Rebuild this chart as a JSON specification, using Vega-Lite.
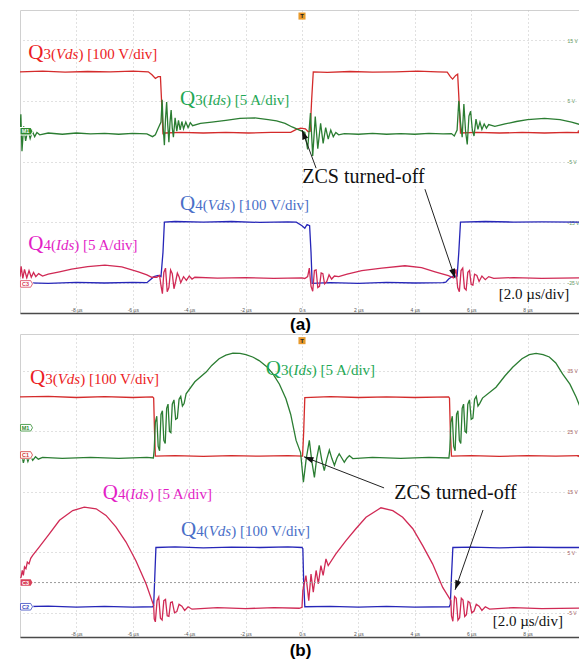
{
"$schema": "https://vega.github.io/schema/vega-lite/v6.json",
"padding": {"left": 15, "top": 9, "right": 0, "bottom": 0},
"bounds": "flush",
"spacing": 21,
"config": {
 "view": {"stroke": "#d0d0d0", "strokeWidth": 1},
 "axis": {"ticks": false, "tickSize": 0, "grid": true, "gridColor": "#c2c2c2", "gridDash": [1, 3], "gridWidth": 1, "labelFont": "Liberation Sans", "labelFontSize": 5, "labelOverlap": false, "labelFlush": false},
 "text": {"font": "Liberation Serif"}
},
"datasets": {
 "waveA": [
  {"s":"Q3Vds","t":-10,"v":9.8},{"s":"Q3Vds","t":-9.2,"v":9.9},{"s":"Q3Vds","t":-8.4,"v":9.75},{"s":"Q3Vds","t":-7.6,"v":9.85},{"s":"Q3Vds","t":-6.8,"v":9.8},{"s":"Q3Vds","t":-6.0,"v":9.9},{"s":"Q3Vds","t":-5.45,"v":9.8},{"s":"Q3Vds","t":-5.32,"v":9.3},{"s":"Q3Vds","t":-5.2,"v":8.7},{"s":"Q3Vds","t":-5.1,"v":9.0},{"s":"Q3Vds","t":-5.02,"v":9.0},{"s":"Q3Vds","t":-4.97,"v":4.0},{"s":"Q3Vds","t":-4.93,"v":-0.4},{"s":"Q3Vds","t":-4.85,"v":-0.3},{"s":"Q3Vds","t":-4.3,"v":-0.2},{"s":"Q3Vds","t":-3.5,"v":-0.3},{"s":"Q3Vds","t":-2.7,"v":-0.2},{"s":"Q3Vds","t":-1.9,"v":-0.3},{"s":"Q3Vds","t":-1.1,"v":-0.2},{"s":"Q3Vds","t":-0.4,"v":-0.2},{"s":"Q3Vds","t":-0.2,"v":0.3},{"s":"Q3Vds","t":-0.05,"v":0.5},{"s":"Q3Vds","t":0.12,"v":0.4},{"s":"Q3Vds","t":0.22,"v":-0.1},{"s":"Q3Vds","t":0.29,"v":0.0},{"s":"Q3Vds","t":0.34,"v":5.0},{"s":"Q3Vds","t":0.4,"v":9.8},{"s":"Q3Vds","t":0.9,"v":9.7},{"s":"Q3Vds","t":1.7,"v":9.85},{"s":"Q3Vds","t":2.5,"v":9.75},{"s":"Q3Vds","t":3.3,"v":9.8},{"s":"Q3Vds","t":4.1,"v":9.9},{"s":"Q3Vds","t":4.8,"v":9.8},{"s":"Q3Vds","t":5.15,"v":9.75},{"s":"Q3Vds","t":5.26,"v":9.0},{"s":"Q3Vds","t":5.34,"v":8.6},{"s":"Q3Vds","t":5.45,"v":9.2},{"s":"Q3Vds","t":5.52,"v":9.4},{"s":"Q3Vds","t":5.58,"v":4.0},{"s":"Q3Vds","t":5.62,"v":-0.3},{"s":"Q3Vds","t":6.2,"v":-0.2},{"s":"Q3Vds","t":7.0,"v":-0.3},{"s":"Q3Vds","t":7.8,"v":-0.2},{"s":"Q3Vds","t":8.6,"v":-0.3},{"s":"Q3Vds","t":9.4,"v":-0.2},{"s":"Q3Vds","t":10,"v":-0.25},
  {"s":"Q3Ids","t":-10,"v":-0.4},{"s":"Q3Ids","t":-9.97,"v":2.8},{"s":"Q3Ids","t":-9.93,"v":-3.3},{"s":"Q3Ids","t":-9.87,"v":0.8},{"s":"Q3Ids","t":-9.8,"v":-1.6},{"s":"Q3Ids","t":-9.72,"v":0.3},{"s":"Q3Ids","t":-9.64,"v":-1.2},{"s":"Q3Ids","t":-9.56,"v":0.0},{"s":"Q3Ids","t":-9.48,"v":-0.9},{"s":"Q3Ids","t":-9.4,"v":-0.2},{"s":"Q3Ids","t":-9.3,"v":-0.6},{"s":"Q3Ids","t":-9.0,"v":-0.3},{"s":"Q3Ids","t":-8.5,"v":-0.5},{"s":"Q3Ids","t":-8.0,"v":-0.3},{"s":"Q3Ids","t":-7.5,"v":-0.45},{"s":"Q3Ids","t":-7.0,"v":-0.35},{"s":"Q3Ids","t":-6.5,"v":-0.5},{"s":"Q3Ids","t":-6.0,"v":-0.35},{"s":"Q3Ids","t":-5.5,"v":-0.45},{"s":"Q3Ids","t":-5.3,"v":-0.9},{"s":"Q3Ids","t":-5.2,"v":-0.6},{"s":"Q3Ids","t":-5.1,"v":0.5},{"s":"Q3Ids","t":-5.0,"v":1.5},{"s":"Q3Ids","t":-4.96,"v":5.2},{"s":"Q3Ids","t":-4.92,"v":0.5},{"s":"Q3Ids","t":-4.88,"v":-2.3},{"s":"Q3Ids","t":-4.84,"v":2.0},{"s":"Q3Ids","t":-4.8,"v":4.8},{"s":"Q3Ids","t":-4.76,"v":1.0},{"s":"Q3Ids","t":-4.72,"v":-1.8},{"s":"Q3Ids","t":-4.68,"v":1.5},{"s":"Q3Ids","t":-4.64,"v":3.5},{"s":"Q3Ids","t":-4.6,"v":0.5},{"s":"Q3Ids","t":-4.56,"v":-1.0},{"s":"Q3Ids","t":-4.5,"v":2.2},{"s":"Q3Ids","t":-4.44,"v":0.0},{"s":"Q3Ids","t":-4.38,"v":1.8},{"s":"Q3Ids","t":-4.32,"v":0.2},{"s":"Q3Ids","t":-4.26,"v":1.6},{"s":"Q3Ids","t":-4.2,"v":0.4},{"s":"Q3Ids","t":-4.12,"v":1.5},{"s":"Q3Ids","t":-4.04,"v":0.6},{"s":"Q3Ids","t":-3.96,"v":1.4},{"s":"Q3Ids","t":-3.88,"v":0.9},{"s":"Q3Ids","t":-3.6,"v":1.3},{"s":"Q3Ids","t":-3.2,"v":1.5},{"s":"Q3Ids","t":-2.7,"v":1.8},{"s":"Q3Ids","t":-2.2,"v":2.1},{"s":"Q3Ids","t":-1.67,"v":2.2},{"s":"Q3Ids","t":-1.2,"v":1.9},{"s":"Q3Ids","t":-0.9,"v":1.7},{"s":"Q3Ids","t":-0.6,"v":1.3},{"s":"Q3Ids","t":-0.35,"v":0.7},{"s":"Q3Ids","t":-0.15,"v":0.3},{"s":"Q3Ids","t":0.0,"v":0.0},{"s":"Q3Ids","t":0.1,"v":-0.2},{"s":"Q3Ids","t":0.2,"v":-3.0},{"s":"Q3Ids","t":0.3,"v":3.0},{"s":"Q3Ids","t":0.38,"v":-4.1},{"s":"Q3Ids","t":0.47,"v":2.4},{"s":"Q3Ids","t":0.56,"v":-2.9},{"s":"Q3Ids","t":0.66,"v":1.3},{"s":"Q3Ids","t":0.75,"v":-2.0},{"s":"Q3Ids","t":0.84,"v":0.6},{"s":"Q3Ids","t":0.93,"v":-1.3},{"s":"Q3Ids","t":1.02,"v":0.2},{"s":"Q3Ids","t":1.11,"v":-0.9},{"s":"Q3Ids","t":1.2,"v":-0.2},{"s":"Q3Ids","t":1.3,"v":-0.6},{"s":"Q3Ids","t":1.5,"v":-0.4},{"s":"Q3Ids","t":2.0,"v":-0.5},{"s":"Q3Ids","t":2.5,"v":-0.35},{"s":"Q3Ids","t":3.0,"v":-0.5},{"s":"Q3Ids","t":3.5,"v":-0.4},{"s":"Q3Ids","t":4.0,"v":-0.5},{"s":"Q3Ids","t":4.5,"v":-0.35},{"s":"Q3Ids","t":5.0,"v":-0.45},{"s":"Q3Ids","t":5.3,"v":-0.4},{"s":"Q3Ids","t":5.4,"v":-0.8},{"s":"Q3Ids","t":5.5,"v":0.2},{"s":"Q3Ids","t":5.56,"v":5.0},{"s":"Q3Ids","t":5.62,"v":1.5},{"s":"Q3Ids","t":5.68,"v":-1.0},{"s":"Q3Ids","t":5.74,"v":4.5},{"s":"Q3Ids","t":5.8,"v":0.0},{"s":"Q3Ids","t":5.86,"v":-2.2},{"s":"Q3Ids","t":5.92,"v":2.5},{"s":"Q3Ids","t":5.98,"v":3.3},{"s":"Q3Ids","t":6.04,"v":0.2},{"s":"Q3Ids","t":6.1,"v":-0.8},{"s":"Q3Ids","t":6.17,"v":2.0},{"s":"Q3Ids","t":6.24,"v":0.3},{"s":"Q3Ids","t":6.31,"v":1.5},{"s":"Q3Ids","t":6.38,"v":0.3},{"s":"Q3Ids","t":6.46,"v":1.2},{"s":"Q3Ids","t":6.54,"v":0.5},{"s":"Q3Ids","t":6.62,"v":1.1},{"s":"Q3Ids","t":6.84,"v":0.8},{"s":"Q3Ids","t":7.2,"v":1.2},{"s":"Q3Ids","t":7.6,"v":1.6},{"s":"Q3Ids","t":8.0,"v":1.9},{"s":"Q3Ids","t":8.6,"v":2.1},{"s":"Q3Ids","t":9.15,"v":1.9},{"s":"Q3Ids","t":9.56,"v":1.5},{"s":"Q3Ids","t":10.0,"v":0.9},
  {"s":"Q4Vds","t":-10,"v":-25.0},{"s":"Q4Vds","t":-9.0,"v":-25.1},{"s":"Q4Vds","t":-8.0,"v":-24.95},{"s":"Q4Vds","t":-7.0,"v":-25.05},{"s":"Q4Vds","t":-6.0,"v":-24.95},{"s":"Q4Vds","t":-5.5,"v":-25.0},{"s":"Q4Vds","t":-5.4,"v":-24.6},{"s":"Q4Vds","t":-5.25,"v":-24.0},{"s":"Q4Vds","t":-5.1,"v":-23.8},{"s":"Q4Vds","t":-5.0,"v":-24.0},{"s":"Q4Vds","t":-4.93,"v":-20},{"s":"Q4Vds","t":-4.88,"v":-15.0},{"s":"Q4Vds","t":-4.5,"v":-14.9},{"s":"Q4Vds","t":-3.5,"v":-15.0},{"s":"Q4Vds","t":-2.5,"v":-14.9},{"s":"Q4Vds","t":-1.5,"v":-15.05},{"s":"Q4Vds","t":-0.5,"v":-14.95},{"s":"Q4Vds","t":-0.2,"v":-15.0},{"s":"Q4Vds","t":0.0,"v":-15.6},{"s":"Q4Vds","t":0.1,"v":-16.0},{"s":"Q4Vds","t":0.18,"v":-15.4},{"s":"Q4Vds","t":0.27,"v":-15.6},{"s":"Q4Vds","t":0.32,"v":-20},{"s":"Q4Vds","t":0.36,"v":-25.1},{"s":"Q4Vds","t":1.0,"v":-25.0},{"s":"Q4Vds","t":2.0,"v":-25.1},{"s":"Q4Vds","t":3.0,"v":-24.95},{"s":"Q4Vds","t":4.0,"v":-25.05},{"s":"Q4Vds","t":5.0,"v":-25.0},{"s":"Q4Vds","t":5.1,"v":-24.9},{"s":"Q4Vds","t":5.2,"v":-24.4},{"s":"Q4Vds","t":5.35,"v":-23.9},{"s":"Q4Vds","t":5.5,"v":-23.9},{"s":"Q4Vds","t":5.56,"v":-20},{"s":"Q4Vds","t":5.62,"v":-15.0},{"s":"Q4Vds","t":6.5,"v":-14.9},{"s":"Q4Vds","t":7.5,"v":-15.0},{"s":"Q4Vds","t":8.5,"v":-14.95},{"s":"Q4Vds","t":10.0,"v":-15.0},
  {"s":"Q4Ids","t":-10.0,"v":-24.0},{"s":"Q4Ids","t":-9.96,"v":-22.3},{"s":"Q4Ids","t":-9.9,"v":-24.3},{"s":"Q4Ids","t":-9.84,"v":-22.8},{"s":"Q4Ids","t":-9.76,"v":-24.2},{"s":"Q4Ids","t":-9.68,"v":-23.0},{"s":"Q4Ids","t":-9.6,"v":-24.1},{"s":"Q4Ids","t":-9.52,"v":-23.3},{"s":"Q4Ids","t":-9.44,"v":-24.0},{"s":"Q4Ids","t":-9.34,"v":-23.5},{"s":"Q4Ids","t":-9.2,"v":-23.9},{"s":"Q4Ids","t":-9.0,"v":-23.6},{"s":"Q4Ids","t":-8.6,"v":-23.2},{"s":"Q4Ids","t":-8.17,"v":-22.75},{"s":"Q4Ids","t":-7.6,"v":-22.35},{"s":"Q4Ids","t":-6.99,"v":-22.1},{"s":"Q4Ids","t":-6.39,"v":-22.4},{"s":"Q4Ids","t":-5.8,"v":-23.2},{"s":"Q4Ids","t":-5.5,"v":-23.7},{"s":"Q4Ids","t":-5.33,"v":-24.1},{"s":"Q4Ids","t":-5.15,"v":-24.1},{"s":"Q4Ids","t":-5.05,"v":-23.8},{"s":"Q4Ids","t":-5.0,"v":-25.5},{"s":"Q4Ids","t":-4.95,"v":-26.8},{"s":"Q4Ids","t":-4.9,"v":-23.3},{"s":"Q4Ids","t":-4.84,"v":-22.6},{"s":"Q4Ids","t":-4.78,"v":-26.5},{"s":"Q4Ids","t":-4.72,"v":-25.8},{"s":"Q4Ids","t":-4.66,"v":-22.9},{"s":"Q4Ids","t":-4.6,"v":-23.5},{"s":"Q4Ids","t":-4.54,"v":-26.0},{"s":"Q4Ids","t":-4.48,"v":-24.8},{"s":"Q4Ids","t":-4.42,"v":-23.4},{"s":"Q4Ids","t":-4.36,"v":-24.0},{"s":"Q4Ids","t":-4.3,"v":-25.0},{"s":"Q4Ids","t":-4.2,"v":-24.0},{"s":"Q4Ids","t":-4.1,"v":-24.6},{"s":"Q4Ids","t":-4.0,"v":-23.9},{"s":"Q4Ids","t":-3.9,"v":-24.4},{"s":"Q4Ids","t":-3.8,"v":-24.1},{"s":"Q4Ids","t":-3.0,"v":-24.25},{"s":"Q4Ids","t":-2.0,"v":-24.15},{"s":"Q4Ids","t":-1.0,"v":-24.3},{"s":"Q4Ids","t":0.0,"v":-24.2},{"s":"Q4Ids","t":0.1,"v":-24.3},{"s":"Q4Ids","t":0.2,"v":-24.0},{"s":"Q4Ids","t":0.26,"v":-22.6},{"s":"Q4Ids","t":0.32,"v":-25.6},{"s":"Q4Ids","t":0.38,"v":-26.4},{"s":"Q4Ids","t":0.44,"v":-23.0},{"s":"Q4Ids","t":0.5,"v":-22.9},{"s":"Q4Ids","t":0.56,"v":-25.8},{"s":"Q4Ids","t":0.62,"v":-25.6},{"s":"Q4Ids","t":0.68,"v":-23.4},{"s":"Q4Ids","t":0.74,"v":-23.5},{"s":"Q4Ids","t":0.8,"v":-25.2},{"s":"Q4Ids","t":0.88,"v":-24.8},{"s":"Q4Ids","t":0.96,"v":-23.7},{"s":"Q4Ids","t":1.05,"v":-24.4},{"s":"Q4Ids","t":1.15,"v":-23.9},{"s":"Q4Ids","t":1.3,"v":-24.0},{"s":"Q4Ids","t":1.6,"v":-23.6},{"s":"Q4Ids","t":2.12,"v":-23.0},{"s":"Q4Ids","t":2.83,"v":-22.6},{"s":"Q4Ids","t":3.65,"v":-22.2},{"s":"Q4Ids","t":4.24,"v":-22.5},{"s":"Q4Ids","t":4.72,"v":-23.2},{"s":"Q4Ids","t":5.19,"v":-23.85},{"s":"Q4Ids","t":5.37,"v":-24.2},{"s":"Q4Ids","t":5.46,"v":-22.8},{"s":"Q4Ids","t":5.52,"v":-25.8},{"s":"Q4Ids","t":5.58,"v":-26.5},{"s":"Q4Ids","t":5.64,"v":-23.0},{"s":"Q4Ids","t":5.7,"v":-22.6},{"s":"Q4Ids","t":5.76,"v":-25.9},{"s":"Q4Ids","t":5.82,"v":-26.2},{"s":"Q4Ids","t":5.88,"v":-23.3},{"s":"Q4Ids","t":5.94,"v":-23.0},{"s":"Q4Ids","t":6.0,"v":-25.3},{"s":"Q4Ids","t":6.06,"v":-25.4},{"s":"Q4Ids","t":6.12,"v":-23.6},{"s":"Q4Ids","t":6.2,"v":-23.8},{"s":"Q4Ids","t":6.28,"v":-24.8},{"s":"Q4Ids","t":6.38,"v":-23.9},{"s":"Q4Ids","t":6.5,"v":-24.5},{"s":"Q4Ids","t":6.62,"v":-24.0},{"s":"Q4Ids","t":6.8,"v":-24.3},{"s":"Q4Ids","t":7.5,"v":-24.15},{"s":"Q4Ids","t":8.5,"v":-24.3},{"s":"Q4Ids","t":10.0,"v":-24.2}
 ],
 "waveB": [
  {"s":"Q3Vds","t":-10,"v":30.7},{"s":"Q3Vds","t":-9,"v":30.8},{"s":"Q3Vds","t":-8,"v":30.6},{"s":"Q3Vds","t":-7,"v":30.75},{"s":"Q3Vds","t":-6,"v":30.6},{"s":"Q3Vds","t":-5.3,"v":30.7},{"s":"Q3Vds","t":-5.26,"v":30.5},{"s":"Q3Vds","t":-5.23,"v":25},{"s":"Q3Vds","t":-5.2,"v":20.9},{"s":"Q3Vds","t":-4.5,"v":21.0},{"s":"Q3Vds","t":-3.5,"v":20.85},{"s":"Q3Vds","t":-2.5,"v":21.0},{"s":"Q3Vds","t":-1.5,"v":20.9},{"s":"Q3Vds","t":-0.5,"v":21.0},{"s":"Q3Vds","t":0.02,"v":20.9},{"s":"Q3Vds","t":0.06,"v":25},{"s":"Q3Vds","t":0.1,"v":30.6},{"s":"Q3Vds","t":1,"v":30.75},{"s":"Q3Vds","t":2,"v":30.6},{"s":"Q3Vds","t":3,"v":30.7},{"s":"Q3Vds","t":4,"v":30.6},{"s":"Q3Vds","t":5.2,"v":30.7},{"s":"Q3Vds","t":5.23,"v":30.5},{"s":"Q3Vds","t":5.26,"v":25},{"s":"Q3Vds","t":5.3,"v":20.9},{"s":"Q3Vds","t":6,"v":21.0},{"s":"Q3Vds","t":7,"v":20.85},{"s":"Q3Vds","t":8,"v":21.0},{"s":"Q3Vds","t":9,"v":20.9},{"s":"Q3Vds","t":10,"v":21.0},
  {"s":"Q3Ids","t":-10,"v":20.5},{"s":"Q3Ids","t":-9.95,"v":21.5},{"s":"Q3Ids","t":-9.88,"v":19.8},{"s":"Q3Ids","t":-9.8,"v":21.2},{"s":"Q3Ids","t":-9.72,"v":20.0},{"s":"Q3Ids","t":-9.64,"v":21.0},{"s":"Q3Ids","t":-9.55,"v":20.2},{"s":"Q3Ids","t":-9.45,"v":20.8},{"s":"Q3Ids","t":-9.35,"v":20.4},{"s":"Q3Ids","t":-9.2,"v":20.7},{"s":"Q3Ids","t":-8.5,"v":20.55},{"s":"Q3Ids","t":-7.5,"v":20.7},{"s":"Q3Ids","t":-6.5,"v":20.55},{"s":"Q3Ids","t":-5.5,"v":20.7},{"s":"Q3Ids","t":-5.27,"v":20.6},{"s":"Q3Ids","t":-5.24,"v":22.0},{"s":"Q3Ids","t":-5.2,"v":26.5},{"s":"Q3Ids","t":-5.15,"v":27.5},{"s":"Q3Ids","t":-5.1,"v":22.5},{"s":"Q3Ids","t":-5.05,"v":21.8},{"s":"Q3Ids","t":-5.0,"v":27.8},{"s":"Q3Ids","t":-4.95,"v":28.4},{"s":"Q3Ids","t":-4.9,"v":23.5},{"s":"Q3Ids","t":-4.85,"v":23.0},{"s":"Q3Ids","t":-4.8,"v":28.8},{"s":"Q3Ids","t":-4.75,"v":29.5},{"s":"Q3Ids","t":-4.7,"v":25.0},{"s":"Q3Ids","t":-4.65,"v":24.8},{"s":"Q3Ids","t":-4.6,"v":29.5},{"s":"Q3Ids","t":-4.54,"v":30.2},{"s":"Q3Ids","t":-4.48,"v":27.0},{"s":"Q3Ids","t":-4.42,"v":27.2},{"s":"Q3Ids","t":-4.36,"v":30.3},{"s":"Q3Ids","t":-4.3,"v":30.8},{"s":"Q3Ids","t":-4.24,"v":29.2},{"s":"Q3Ids","t":-4.18,"v":29.6},{"s":"Q3Ids","t":-4.11,"v":31.2},{"s":"Q3Ids","t":-3.8,"v":33.2},{"s":"Q3Ids","t":-3.4,"v":34.8},{"s":"Q3Ids","t":-3.2,"v":35.9},{"s":"Q3Ids","t":-2.94,"v":37.0},{"s":"Q3Ids","t":-2.7,"v":37.6},{"s":"Q3Ids","t":-2.45,"v":37.95},{"s":"Q3Ids","t":-2.2,"v":37.9},{"s":"Q3Ids","t":-1.99,"v":37.7},{"s":"Q3Ids","t":-1.75,"v":37.3},{"s":"Q3Ids","t":-1.52,"v":36.7},{"s":"Q3Ids","t":-1.25,"v":35.7},{"s":"Q3Ids","t":-1.03,"v":34.5},{"s":"Q3Ids","t":-0.8,"v":32.8},{"s":"Q3Ids","t":-0.57,"v":30.4},{"s":"Q3Ids","t":-0.4,"v":27.8},{"s":"Q3Ids","t":-0.21,"v":23.5},{"s":"Q3Ids","t":-0.05,"v":21.5},{"s":"Q3Ids","t":0.05,"v":16.6},{"s":"Q3Ids","t":0.15,"v":20.5},{"s":"Q3Ids","t":0.26,"v":23.5},{"s":"Q3Ids","t":0.35,"v":20.0},{"s":"Q3Ids","t":0.44,"v":17.4},{"s":"Q3Ids","t":0.52,"v":20.5},{"s":"Q3Ids","t":0.61,"v":22.7},{"s":"Q3Ids","t":0.7,"v":20.3},{"s":"Q3Ids","t":0.79,"v":18.5},{"s":"Q3Ids","t":0.88,"v":20.4},{"s":"Q3Ids","t":0.97,"v":21.9},{"s":"Q3Ids","t":1.06,"v":20.5},{"s":"Q3Ids","t":1.15,"v":19.4},{"s":"Q3Ids","t":1.24,"v":20.6},{"s":"Q3Ids","t":1.32,"v":21.3},{"s":"Q3Ids","t":1.41,"v":20.6},{"s":"Q3Ids","t":1.5,"v":19.9},{"s":"Q3Ids","t":1.6,"v":20.6},{"s":"Q3Ids","t":1.68,"v":21.0},{"s":"Q3Ids","t":1.8,"v":20.5},{"s":"Q3Ids","t":2.5,"v":20.7},{"s":"Q3Ids","t":3.5,"v":20.55},{"s":"Q3Ids","t":4.5,"v":20.7},{"s":"Q3Ids","t":5.21,"v":20.6},{"s":"Q3Ids","t":5.24,"v":22.0},{"s":"Q3Ids","t":5.28,"v":26.5},{"s":"Q3Ids","t":5.33,"v":27.5},{"s":"Q3Ids","t":5.38,"v":22.5},{"s":"Q3Ids","t":5.43,"v":21.8},{"s":"Q3Ids","t":5.48,"v":27.8},{"s":"Q3Ids","t":5.53,"v":28.4},{"s":"Q3Ids","t":5.58,"v":23.5},{"s":"Q3Ids","t":5.63,"v":23.0},{"s":"Q3Ids","t":5.68,"v":28.8},{"s":"Q3Ids","t":5.73,"v":29.5},{"s":"Q3Ids","t":5.78,"v":25.0},{"s":"Q3Ids","t":5.83,"v":24.8},{"s":"Q3Ids","t":5.88,"v":29.5},{"s":"Q3Ids","t":5.94,"v":30.2},{"s":"Q3Ids","t":6.0,"v":27.0},{"s":"Q3Ids","t":6.06,"v":27.2},{"s":"Q3Ids","t":6.12,"v":30.3},{"s":"Q3Ids","t":6.18,"v":30.8},{"s":"Q3Ids","t":6.24,"v":29.2},{"s":"Q3Ids","t":6.3,"v":29.6},{"s":"Q3Ids","t":6.4,"v":30.5},{"s":"Q3Ids","t":6.88,"v":32.3},{"s":"Q3Ids","t":7.2,"v":34.2},{"s":"Q3Ids","t":7.47,"v":35.6},{"s":"Q3Ids","t":7.8,"v":37.0},{"s":"Q3Ids","t":8.06,"v":37.7},{"s":"Q3Ids","t":8.3,"v":37.9},{"s":"Q3Ids","t":8.55,"v":37.7},{"s":"Q3Ids","t":8.77,"v":37.3},{"s":"Q3Ids","t":9.0,"v":36.3},{"s":"Q3Ids","t":9.24,"v":34.5},{"s":"Q3Ids","t":9.5,"v":32.8},{"s":"Q3Ids","t":9.72,"v":30.7},{"s":"Q3Ids","t":9.9,"v":28.6},{"s":"Q3Ids","t":10.0,"v":27.0},
  {"s":"Q4Vds","t":-10,"v":-4.0},{"s":"Q4Vds","t":-9,"v":-3.9},{"s":"Q4Vds","t":-8,"v":-4.05},{"s":"Q4Vds","t":-7,"v":-3.95},{"s":"Q4Vds","t":-6,"v":-4.05},{"s":"Q4Vds","t":-5.3,"v":-4.0},{"s":"Q4Vds","t":-5.26,"v":-3.8},{"s":"Q4Vds","t":-5.22,"v":1.0},{"s":"Q4Vds","t":-5.18,"v":5.8},{"s":"Q4Vds","t":-4.5,"v":5.9},{"s":"Q4Vds","t":-3.5,"v":5.75},{"s":"Q4Vds","t":-2.5,"v":5.85},{"s":"Q4Vds","t":-1.5,"v":5.8},{"s":"Q4Vds","t":-0.5,"v":5.9},{"s":"Q4Vds","t":0.0,"v":5.8},{"s":"Q4Vds","t":0.03,"v":5.6},{"s":"Q4Vds","t":0.06,"v":0.0},{"s":"Q4Vds","t":0.1,"v":-4.0},{"s":"Q4Vds","t":1,"v":-3.95},{"s":"Q4Vds","t":2,"v":-4.05},{"s":"Q4Vds","t":3,"v":-3.95},{"s":"Q4Vds","t":4,"v":-4.05},{"s":"Q4Vds","t":5.22,"v":-4.0},{"s":"Q4Vds","t":5.26,"v":-3.6},{"s":"Q4Vds","t":5.3,"v":1.0},{"s":"Q4Vds","t":5.35,"v":5.8},{"s":"Q4Vds","t":6,"v":5.85},{"s":"Q4Vds","t":7,"v":5.75},{"s":"Q4Vds","t":8,"v":5.85},{"s":"Q4Vds","t":9,"v":5.8},{"s":"Q4Vds","t":10,"v":5.8},
  {"s":"Q4Ids","t":-10.0,"v":0.6},{"s":"Q4Ids","t":-9.96,"v":0.9},{"s":"Q4Ids","t":-9.92,"v":2.0},{"s":"Q4Ids","t":-9.88,"v":1.2},{"s":"Q4Ids","t":-9.84,"v":2.6},{"s":"Q4Ids","t":-9.79,"v":2.3},{"s":"Q4Ids","t":-9.74,"v":3.4},{"s":"Q4Ids","t":-9.68,"v":3.1},{"s":"Q4Ids","t":-9.62,"v":4.0},{"s":"Q4Ids","t":-9.55,"v":4.5},{"s":"Q4Ids","t":-9.32,"v":5.85},{"s":"Q4Ids","t":-8.96,"v":8.06},{"s":"Q4Ids","t":-8.6,"v":10.3},{"s":"Q4Ids","t":-8.13,"v":11.9},{"s":"Q4Ids","t":-7.72,"v":12.47},{"s":"Q4Ids","t":-7.3,"v":12.2},{"s":"Q4Ids","t":-6.95,"v":11.1},{"s":"Q4Ids","t":-6.6,"v":9.2},{"s":"Q4Ids","t":-6.24,"v":6.7},{"s":"Q4Ids","t":-5.89,"v":3.6},{"s":"Q4Ids","t":-5.53,"v":-0.2},{"s":"Q4Ids","t":-5.26,"v":-3.8},{"s":"Q4Ids","t":-5.24,"v":-6.0},{"s":"Q4Ids","t":-5.2,"v":-6.5},{"s":"Q4Ids","t":-5.14,"v":-3.0},{"s":"Q4Ids","t":-5.08,"v":-2.4},{"s":"Q4Ids","t":-5.02,"v":-5.9},{"s":"Q4Ids","t":-4.96,"v":-6.2},{"s":"Q4Ids","t":-4.9,"v":-3.0},{"s":"Q4Ids","t":-4.84,"v":-2.8},{"s":"Q4Ids","t":-4.78,"v":-5.5},{"s":"Q4Ids","t":-4.72,"v":-5.6},{"s":"Q4Ids","t":-4.66,"v":-3.3},{"s":"Q4Ids","t":-4.6,"v":-3.2},{"s":"Q4Ids","t":-4.52,"v":-5.0},{"s":"Q4Ids","t":-4.44,"v":-4.8},{"s":"Q4Ids","t":-4.36,"v":-3.6},{"s":"Q4Ids","t":-4.26,"v":-3.9},{"s":"Q4Ids","t":-4.16,"v":-4.6},{"s":"Q4Ids","t":-4.04,"v":-4.0},{"s":"Q4Ids","t":-3.9,"v":-4.4},{"s":"Q4Ids","t":-3.0,"v":-4.15},{"s":"Q4Ids","t":-2.0,"v":-4.3},{"s":"Q4Ids","t":-1.0,"v":-4.15},{"s":"Q4Ids","t":-0.1,"v":-4.25},{"s":"Q4Ids","t":0.0,"v":-4.1},{"s":"Q4Ids","t":0.03,"v":-1.3},{"s":"Q4Ids","t":0.14,"v":1.16},{"s":"Q4Ids","t":0.24,"v":-3.0},{"s":"Q4Ids","t":0.32,"v":1.4},{"s":"Q4Ids","t":0.4,"v":-1.6},{"s":"Q4Ids","t":0.5,"v":2.0},{"s":"Q4Ids","t":0.58,"v":-0.2},{"s":"Q4Ids","t":0.67,"v":2.8},{"s":"Q4Ids","t":0.75,"v":1.2},{"s":"Q4Ids","t":0.85,"v":3.9},{"s":"Q4Ids","t":0.93,"v":2.8},{"s":"Q4Ids","t":1.2,"v":4.75},{"s":"Q4Ids","t":1.56,"v":6.95},{"s":"Q4Ids","t":1.91,"v":8.9},{"s":"Q4Ids","t":2.27,"v":10.8},{"s":"Q4Ids","t":2.8,"v":12.37},{"s":"Q4Ids","t":3.22,"v":11.9},{"s":"Q4Ids","t":3.57,"v":10.8},{"s":"Q4Ids","t":3.93,"v":8.9},{"s":"Q4Ids","t":4.28,"v":6.1},{"s":"Q4Ids","t":4.63,"v":3.1},{"s":"Q4Ids","t":4.99,"v":-0.8},{"s":"Q4Ids","t":5.28,"v":-3.0},{"s":"Q4Ids","t":5.3,"v":-5.5},{"s":"Q4Ids","t":5.35,"v":-6.4},{"s":"Q4Ids","t":5.41,"v":-2.3},{"s":"Q4Ids","t":5.47,"v":-2.6},{"s":"Q4Ids","t":5.53,"v":-6.2},{"s":"Q4Ids","t":5.59,"v":-5.8},{"s":"Q4Ids","t":5.65,"v":-2.6},{"s":"Q4Ids","t":5.71,"v":-2.9},{"s":"Q4Ids","t":5.77,"v":-5.6},{"s":"Q4Ids","t":5.83,"v":-5.3},{"s":"Q4Ids","t":5.89,"v":-3.1},{"s":"Q4Ids","t":5.95,"v":-3.3},{"s":"Q4Ids","t":6.02,"v":-5.0},{"s":"Q4Ids","t":6.1,"v":-4.7},{"s":"Q4Ids","t":6.18,"v":-3.6},{"s":"Q4Ids","t":6.28,"v":-3.9},{"s":"Q4Ids","t":6.38,"v":-4.6},{"s":"Q4Ids","t":6.5,"v":-4.0},{"s":"Q4Ids","t":6.65,"v":-4.4},{"s":"Q4Ids","t":7.5,"v":-4.15},{"s":"Q4Ids","t":8.5,"v":-4.3},{"s":"Q4Ids","t":10,"v":-4.2}
 ],
 "textA": [
  {"s":"L3V","p":"Q","t":-9.706,"v":11.9,"x":"Q"},{"s":"L3V","p":"n","t":-9.168,"v":11.9,"x":"3("},{"s":"L3V","p":"i","t":-8.725,"v":11.9,"x":"Vds"},{"s":"L3V","p":"n","t":-7.927,"v":11.9,"x":") [100 V/div]"},
  {"s":"L3I","p":"Q","t":-4.326,"v":4.32,"x":"Q"},{"s":"L3I","p":"n","t":-3.788,"v":4.32,"x":"3("},{"s":"L3I","p":"i","t":-3.345,"v":4.32,"x":"Ids"},{"s":"L3I","p":"n","t":-2.695,"v":4.32,"x":") [5 A/div]"},
  {"s":"L4V","p":"Q","t":-4.326,"v":-13.0,"x":"Q"},{"s":"L4V","p":"n","t":-3.788,"v":-13.0,"x":"4("},{"s":"L4V","p":"i","t":-3.345,"v":-13.0,"x":"Vds"},{"s":"L4V","p":"n","t":-2.547,"v":-13.0,"x":") [100 V/div]"},
  {"s":"L4I","p":"Q","t":-9.706,"v":-19.6,"x":"Q"},{"s":"L4I","p":"n","t":-9.168,"v":-19.6,"x":"4("},{"s":"L4I","p":"i","t":-8.725,"v":-19.6,"x":"Ids"},{"s":"L4I","p":"n","t":-8.075,"v":-19.6,"x":") [5 A/div]"},
  {"s":"K","p":"z","t":0.01,"v":-8.5,"x":"ZCS turned-off"},{"s":"K","p":"n","t":6.98,"v":-27.74,"x":"[2.0 µs/div]"}
 ],
 "textB": [
  {"s":"L3V","p":"Q","t":-9.645,"v":32.84,"x":"Q"},{"s":"L3V","p":"n","t":-9.107,"v":32.84,"x":"3("},{"s":"L3V","p":"i","t":-8.664,"v":32.84,"x":"Vds"},{"s":"L3V","p":"n","t":-7.866,"v":32.84,"x":") [100 V/div]"},
  {"s":"L3I","p":"Q","t":-1.284,"v":34.33,"x":"Q"},{"s":"L3I","p":"n","t":-0.746,"v":34.33,"x":"3("},{"s":"L3I","p":"i","t":-0.303,"v":34.33,"x":"Ids"},{"s":"L3I","p":"n","t":0.347,"v":34.33,"x":") [5 A/div]"},
  {"s":"L4I","p":"Q","t":-7.067,"v":13.9,"x":"Q"},{"s":"L4I","p":"n","t":-6.529,"v":13.9,"x":"4("},{"s":"L4I","p":"i","t":-6.086,"v":13.9,"x":"Ids"},{"s":"L4I","p":"n","t":-5.436,"v":13.9,"x":") [5 A/div]"},
  {"s":"L4V","p":"Q","t":-4.291,"v":7.72,"x":"Q"},{"s":"L4V","p":"n","t":-3.753,"v":7.72,"x":"4("},{"s":"L4V","p":"i","t":-3.31,"v":7.72,"x":"Vds"},{"s":"L4V","p":"n","t":-2.512,"v":7.72,"x":") [100 V/div]"},
  {"s":"K","p":"z","t":3.27,"v":13.84,"x":"ZCS turned-off"},{"s":"K","p":"n","t":6.76,"v":-7.2,"x":"[2.0 µs/div]"}
 ],
 "arrA": [{"id":1,"t":0.5,"v":-6.1,"t2":0.0,"v2":0.2},{"id":2,"t":4.36,"v":-9.57,"t2":5.43,"v2":-24.26}],
 "arrB": [{"id":1,"t":2.91,"v":15.65,"t2":0.07,"v2":20.8},{"id":2,"t":6.42,"v":12.0,"t2":5.43,"v2":-1.2}],
 "tagA": [{"s":"M1","t":-9.77,"v":0,"on":true},{"s":"C3","t":-9.77,"v":-25.2,"on":false}],
 "tagB": [{"s":"M1","t":-9.77,"v":25.6,"on":false},{"s":"C1","t":-9.77,"v":21.1,"on":false},{"s":"C3","t":-9.77,"v":0,"on":true},{"s":"C2","t":-9.77,"v":-4.0,"on":false}],
 "refA": [{"s":"C1","t":9.85,"v":0,"trig":0,"tv":19.0}],
 "refB": [{"s":"C1","t":9.85,"v":20.9,"trig":0,"tv":40.0}]
},
"vconcat": [
 {
  "width": 564, "height": 303,
  "layer": [
   {"data": {"name": "waveA"}, "mark": {"type": "line", "strokeWidth": 1.3, "clip": true},
    "encoding": {
     "x": {"field": "t", "type": "quantitative", "scale": {"domain": [-10, 10], "nice": false, "zero": false},
      "axis": {"orient": "bottom", "values": [-8,-6,-4,-2,0,2,4,6,8], "labelExpr": "datum.value == 0 ? '0 s' : datum.value + ' µs'", "labelColor": "#555", "labelPadding": -4, "labelBaseline": "middle", "domain": true, "domainColor": "#4a4a4a", "domainWidth": 1.3, "title": "(a)", "titleFont": "Liberation Sans", "titleFontSize": 17, "titleFontWeight": "bold", "titleColor": "#000", "titleX": 280, "titleY": 11, "titleAlign": "center", "titleBaseline": "middle"}},
     "y": {"field": "v", "type": "quantitative", "scale": {"domain": [-30, 20], "nice": false, "zero": false},
      "axis": {"orient": "right", "values": [-25,-20,-15,-10,-5,0,5,10,15], "labelExpr": "datum.value + ' V'", "labelColor": "#5f9a5f", "labelAlign": "left", "labelPadding": -17, "labelBaseline": "middle", "domain": false, "title": null}},
     "color": {"field": "s", "type": "nominal", "legend": null, "scale": {"domain": ["Q3Vds","Q3Ids","Q4Vds","Q4Ids","L3V","L3I","L4V","L4I","K","M1","C1","C2","C3"], "range": ["#d42b2b","#2b7d32","#2626b8","#d02a55","#ec1c24","#1fa855","#4a6fc8","#e31ec6","#111111","#2e8b2e","#d03838","#3848c0","#d8405a"]}}
    }},
   {"data": {"name": "textA"}, "transform": [{"filter": "datum.p == 'Q'"}], "mark": {"type": "text", "fontSize": 21, "align": "left", "baseline": "alphabetic"},
    "encoding": {"x": {"field": "t", "type": "quantitative"}, "y": {"field": "v", "type": "quantitative"}, "text": {"field": "x"},
     "color": {"field": "s", "type": "nominal", "legend": null, "scale": {"domain": ["Q3Vds","Q3Ids","Q4Vds","Q4Ids","L3V","L3I","L4V","L4I","K","M1","C1","C2","C3"], "range": ["#d42b2b","#2b7d32","#2626b8","#d02a55","#ec1c24","#1fa855","#4a6fc8","#e31ec6","#111111","#2e8b2e","#d03838","#3848c0","#d8405a"]}}}},
   {"data": {"name": "textA"}, "transform": [{"filter": "datum.p == 'n'"}], "mark": {"type": "text", "fontSize": 15, "align": "left", "baseline": "alphabetic"},
    "encoding": {"x": {"field": "t", "type": "quantitative"}, "y": {"field": "v", "type": "quantitative"}, "text": {"field": "x"},
     "color": {"field": "s", "type": "nominal", "legend": null, "scale": {"domain": ["Q3Vds","Q3Ids","Q4Vds","Q4Ids","L3V","L3I","L4V","L4I","K","M1","C1","C2","C3"], "range": ["#d42b2b","#2b7d32","#2626b8","#d02a55","#ec1c24","#1fa855","#4a6fc8","#e31ec6","#111111","#2e8b2e","#d03838","#3848c0","#d8405a"]}}}},
   {"data": {"name": "textA"}, "transform": [{"filter": "datum.p == 'i'"}], "mark": {"type": "text", "fontSize": 15, "fontStyle": "italic", "align": "left", "baseline": "alphabetic"},
    "encoding": {"x": {"field": "t", "type": "quantitative"}, "y": {"field": "v", "type": "quantitative"}, "text": {"field": "x"},
     "color": {"field": "s", "type": "nominal", "legend": null, "scale": {"domain": ["Q3Vds","Q3Ids","Q4Vds","Q4Ids","L3V","L3I","L4V","L4I","K","M1","C1","C2","C3"], "range": ["#d42b2b","#2b7d32","#2626b8","#d02a55","#ec1c24","#1fa855","#4a6fc8","#e31ec6","#111111","#2e8b2e","#d03838","#3848c0","#d8405a"]}}}},
   {"data": {"name": "textA"}, "transform": [{"filter": "datum.p == 'z'"}], "mark": {"type": "text", "fontSize": 20, "align": "left", "baseline": "alphabetic", "color": "#111"},
    "encoding": {"x": {"field": "t", "type": "quantitative"}, "y": {"field": "v", "type": "quantitative"}, "text": {"field": "x"}}},
   {"data": {"name": "arrA"}, "mark": {"type": "rule", "color": "#222", "strokeWidth": 1},
    "encoding": {"x": {"field": "t", "type": "quantitative"}, "y": {"field": "v", "type": "quantitative"}, "x2": {"field": "t2"}, "y2": {"field": "v2"}}},
   {"data": {"name": "arrA"}, "transform": [{"filter": "datum.id == 1"}], "mark": {"type": "point", "shape": "M0,0L-0.32,1L0.32,1Z", "size": 360, "filled": true, "color": "#111", "opacity": 1, "angle": 339.8},
    "encoding": {"x": {"field": "t2", "type": "quantitative"}, "y": {"field": "v2", "type": "quantitative"}}},
   {"data": {"name": "arrA"}, "transform": [{"filter": "datum.id == 2"}], "mark": {"type": "point", "shape": "M0,0L-0.32,1L0.32,1Z", "size": 360, "filled": true, "color": "#111", "opacity": 1, "angle": 161.4},
    "encoding": {"x": {"field": "t2", "type": "quantitative"}, "y": {"field": "v2", "type": "quantitative"}}},
   {"data": {"name": "tagA"}, "mark": {"type": "point", "shape": "M-1,-0.55L0.7,-0.55L1,0L0.7,0.55L-1,0.55Z", "size": 144, "filled": true, "opacity": 1, "fill": "white", "stroke": "white"},
    "encoding": {"x": {"field": "t", "type": "quantitative"}, "y": {"field": "v", "type": "quantitative"}}},
   {"data": {"name": "tagA"}, "transform": [{"filter": "datum.on"}], "mark": {"type": "point", "shape": "M-1,-0.55L0.7,-0.55L1,0L0.7,0.55L-1,0.55Z", "size": 144, "filled": true, "opacity": 1},
    "encoding": {"x": {"field": "t", "type": "quantitative"}, "y": {"field": "v", "type": "quantitative"},
     "color": {"field": "s", "type": "nominal", "legend": null, "scale": {"domain": ["Q3Vds","Q3Ids","Q4Vds","Q4Ids","L3V","L3I","L4V","L4I","K","M1","C1","C2","C3"], "range": ["#d42b2b","#2b7d32","#2626b8","#d02a55","#ec1c24","#1fa855","#4a6fc8","#e31ec6","#111111","#2e8b2e","#d03838","#3848c0","#d8405a"]}}}},
   {"data": {"name": "tagA"}, "transform": [{"filter": "!datum.on"}], "mark": {"type": "point", "shape": "M-1,-0.55L0.7,-0.55L1,0L0.7,0.55L-1,0.55Z", "size": 144, "filled": false, "strokeWidth": 0.8, "opacity": 1},
    "encoding": {"x": {"field": "t", "type": "quantitative"}, "y": {"field": "v", "type": "quantitative"},
     "color": {"field": "s", "type": "nominal", "legend": null, "scale": {"domain": ["Q3Vds","Q3Ids","Q4Vds","Q4Ids","L3V","L3I","L4V","L4I","K","M1","C1","C2","C3"], "range": ["#d42b2b","#2b7d32","#2626b8","#d02a55","#ec1c24","#1fa855","#4a6fc8","#e31ec6","#111111","#2e8b2e","#d03838","#3848c0","#d8405a"]}}}},
   {"data": {"name": "tagA"}, "mark": {"type": "text", "font": "Liberation Sans", "fontSize": 5.5, "fontWeight": "bold", "dx": -1},
    "encoding": {"x": {"field": "t", "type": "quantitative"}, "y": {"field": "v", "type": "quantitative"}, "text": {"field": "s"},
     "color": {"condition": {"test": "datum.on", "value": "white"}, "field": "s", "type": "nominal", "legend": null, "scale": {"domain": ["Q3Vds","Q3Ids","Q4Vds","Q4Ids","L3V","L3I","L4V","L4I","K","M1","C1","C2","C3"], "range": ["#d42b2b","#2b7d32","#2626b8","#d02a55","#ec1c24","#1fa855","#4a6fc8","#e31ec6","#111111","#2e8b2e","#d03838","#3848c0","#d8405a"]}}}},
   {"data": {"name": "refA"}, "mark": {"type": "point", "shape": "triangle-left", "size": 40, "filled": true, "opacity": 1},
    "encoding": {"x": {"field": "t", "type": "quantitative"}, "y": {"field": "v", "type": "quantitative"},
     "color": {"field": "s", "type": "nominal", "legend": null, "scale": {"domain": ["Q3Vds","Q3Ids","Q4Vds","Q4Ids","L3V","L3I","L4V","L4I","K","M1","C1","C2","C3"], "range": ["#d42b2b","#2b7d32","#2626b8","#d02a55","#ec1c24","#1fa855","#4a6fc8","#e31ec6","#111111","#2e8b2e","#d03838","#3848c0","#d8405a"]}}}},
   {"data": {"name": "refA"}, "mark": {"type": "point", "shape": "square", "size": 50, "filled": true, "color": "#e89a2c", "opacity": 1},
    "encoding": {"x": {"field": "trig", "type": "quantitative"}, "y": {"field": "tv", "type": "quantitative"}}},
   {"data": {"name": "refA"}, "mark": {"type": "text", "text": "T", "font": "Liberation Sans", "fontSize": 6, "fontWeight": "bold", "color": "#222"},
    "encoding": {"x": {"field": "trig", "type": "quantitative"}, "y": {"field": "tv", "type": "quantitative"}}}
  ]
 },
 {
  "width": 564, "height": 303,
  "layer": [
   {"data": {"name": "waveB"}, "mark": {"type": "line", "strokeWidth": 1.3, "clip": true},
    "encoding": {
     "x": {"field": "t", "type": "quantitative", "scale": {"domain": [-10, 10], "nice": false, "zero": false},
      "axis": {"orient": "bottom", "values": [-8,-6,-4,-2,0,2,4,6,8], "labelExpr": "datum.value == 0 ? '0 s' : datum.value + ' µs'", "labelColor": "#555", "labelPadding": -4, "labelBaseline": "middle", "domain": true, "domainColor": "#4a4a4a", "domainWidth": 1.3, "title": "(b)", "titleFont": "Liberation Sans", "titleFontSize": 17, "titleFontWeight": "bold", "titleColor": "#000", "titleX": 280, "titleY": 13, "titleAlign": "center", "titleBaseline": "middle"}},
     "y": {"field": "v", "type": "quantitative", "scale": {"domain": [-9, 41.1], "nice": false, "zero": false},
      "axis": {"orient": "right", "values": [-5,0,5,10,15,20,25,30,35,40], "labelExpr": "datum.value == 40 ? '' : datum.value + ' V'", "labelColor": "#a86262", "labelAlign": "left", "labelPadding": -17, "labelBaseline": "middle", "domain": false, "title": null}},
     "color": {"field": "s", "type": "nominal", "legend": null, "scale": {"domain": ["Q3Vds","Q3Ids","Q4Vds","Q4Ids","L3V","L3I","L4V","L4I","K","M1","C1","C2","C3"], "range": ["#d42b2b","#2b7d32","#2626b8","#d02a55","#ec1c24","#1fa855","#4a6fc8","#e31ec6","#111111","#2e8b2e","#d03838","#3848c0","#d8405a"]}}
    }},
   {"data": {"values": [{}]}, "mark": {"type": "rule", "color": "#9a9a9a", "strokeDash": [2, 2], "strokeWidth": 1},
    "encoding": {"y": {"datum": 0}}},
   {"data": {"name": "textB"}, "transform": [{"filter": "datum.p == 'Q'"}], "mark": {"type": "text", "fontSize": 21, "align": "left", "baseline": "alphabetic"},
    "encoding": {"x": {"field": "t", "type": "quantitative"}, "y": {"field": "v", "type": "quantitative"}, "text": {"field": "x"},
     "color": {"field": "s", "type": "nominal", "legend": null, "scale": {"domain": ["Q3Vds","Q3Ids","Q4Vds","Q4Ids","L3V","L3I","L4V","L4I","K","M1","C1","C2","C3"], "range": ["#d42b2b","#2b7d32","#2626b8","#d02a55","#ec1c24","#1fa855","#4a6fc8","#e31ec6","#111111","#2e8b2e","#d03838","#3848c0","#d8405a"]}}}},
   {"data": {"name": "textB"}, "transform": [{"filter": "datum.p == 'n'"}], "mark": {"type": "text", "fontSize": 15, "align": "left", "baseline": "alphabetic"},
    "encoding": {"x": {"field": "t", "type": "quantitative"}, "y": {"field": "v", "type": "quantitative"}, "text": {"field": "x"},
     "color": {"field": "s", "type": "nominal", "legend": null, "scale": {"domain": ["Q3Vds","Q3Ids","Q4Vds","Q4Ids","L3V","L3I","L4V","L4I","K","M1","C1","C2","C3"], "range": ["#d42b2b","#2b7d32","#2626b8","#d02a55","#ec1c24","#1fa855","#4a6fc8","#e31ec6","#111111","#2e8b2e","#d03838","#3848c0","#d8405a"]}}}},
   {"data": {"name": "textB"}, "transform": [{"filter": "datum.p == 'i'"}], "mark": {"type": "text", "fontSize": 15, "fontStyle": "italic", "align": "left", "baseline": "alphabetic"},
    "encoding": {"x": {"field": "t", "type": "quantitative"}, "y": {"field": "v", "type": "quantitative"}, "text": {"field": "x"},
     "color": {"field": "s", "type": "nominal", "legend": null, "scale": {"domain": ["Q3Vds","Q3Ids","Q4Vds","Q4Ids","L3V","L3I","L4V","L4I","K","M1","C1","C2","C3"], "range": ["#d42b2b","#2b7d32","#2626b8","#d02a55","#ec1c24","#1fa855","#4a6fc8","#e31ec6","#111111","#2e8b2e","#d03838","#3848c0","#d8405a"]}}}},
   {"data": {"name": "textB"}, "transform": [{"filter": "datum.p == 'z'"}], "mark": {"type": "text", "fontSize": 20, "align": "left", "baseline": "alphabetic", "color": "#111"},
    "encoding": {"x": {"field": "t", "type": "quantitative"}, "y": {"field": "v", "type": "quantitative"}, "text": {"field": "x"}}},
   {"data": {"name": "arrB"}, "mark": {"type": "rule", "color": "#222", "strokeWidth": 1},
    "encoding": {"x": {"field": "t", "type": "quantitative"}, "y": {"field": "v", "type": "quantitative"}, "x2": {"field": "t2"}, "y2": {"field": "v2"}}},
   {"data": {"name": "arrB"}, "transform": [{"filter": "datum.id == 1"}], "mark": {"type": "point", "shape": "M0,0L-0.32,1L0.32,1Z", "size": 360, "filled": true, "color": "#111", "opacity": 1, "angle": 291.2},
    "encoding": {"x": {"field": "t2", "type": "quantitative"}, "y": {"field": "v2", "type": "quantitative"}}},
   {"data": {"name": "arrB"}, "transform": [{"filter": "datum.id == 2"}], "mark": {"type": "point", "shape": "M0,0L-0.32,1L0.32,1Z", "size": 360, "filled": true, "color": "#111", "opacity": 1, "angle": 199.3},
    "encoding": {"x": {"field": "t2", "type": "quantitative"}, "y": {"field": "v2", "type": "quantitative"}}},
   {"data": {"name": "tagB"}, "mark": {"type": "point", "shape": "M-1,-0.55L0.7,-0.55L1,0L0.7,0.55L-1,0.55Z", "size": 144, "filled": true, "opacity": 1, "fill": "white", "stroke": "white"},
    "encoding": {"x": {"field": "t", "type": "quantitative"}, "y": {"field": "v", "type": "quantitative"}}},
   {"data": {"name": "tagB"}, "transform": [{"filter": "datum.on"}], "mark": {"type": "point", "shape": "M-1,-0.55L0.7,-0.55L1,0L0.7,0.55L-1,0.55Z", "size": 144, "filled": true, "opacity": 1},
    "encoding": {"x": {"field": "t", "type": "quantitative"}, "y": {"field": "v", "type": "quantitative"},
     "color": {"field": "s", "type": "nominal", "legend": null, "scale": {"domain": ["Q3Vds","Q3Ids","Q4Vds","Q4Ids","L3V","L3I","L4V","L4I","K","M1","C1","C2","C3"], "range": ["#d42b2b","#2b7d32","#2626b8","#d02a55","#ec1c24","#1fa855","#4a6fc8","#e31ec6","#111111","#2e8b2e","#d03838","#3848c0","#d8405a"]}}}},
   {"data": {"name": "tagB"}, "transform": [{"filter": "!datum.on"}], "mark": {"type": "point", "shape": "M-1,-0.55L0.7,-0.55L1,0L0.7,0.55L-1,0.55Z", "size": 144, "filled": false, "strokeWidth": 0.8, "opacity": 1},
    "encoding": {"x": {"field": "t", "type": "quantitative"}, "y": {"field": "v", "type": "quantitative"},
     "color": {"field": "s", "type": "nominal", "legend": null, "scale": {"domain": ["Q3Vds","Q3Ids","Q4Vds","Q4Ids","L3V","L3I","L4V","L4I","K","M1","C1","C2","C3"], "range": ["#d42b2b","#2b7d32","#2626b8","#d02a55","#ec1c24","#1fa855","#4a6fc8","#e31ec6","#111111","#2e8b2e","#d03838","#3848c0","#d8405a"]}}}},
   {"data": {"name": "tagB"}, "mark": {"type": "text", "font": "Liberation Sans", "fontSize": 5.5, "fontWeight": "bold", "dx": -1},
    "encoding": {"x": {"field": "t", "type": "quantitative"}, "y": {"field": "v", "type": "quantitative"}, "text": {"field": "s"},
     "color": {"condition": {"test": "datum.on", "value": "white"}, "field": "s", "type": "nominal", "legend": null, "scale": {"domain": ["Q3Vds","Q3Ids","Q4Vds","Q4Ids","L3V","L3I","L4V","L4I","K","M1","C1","C2","C3"], "range": ["#d42b2b","#2b7d32","#2626b8","#d02a55","#ec1c24","#1fa855","#4a6fc8","#e31ec6","#111111","#2e8b2e","#d03838","#3848c0","#d8405a"]}}}},
   {"data": {"name": "refB"}, "mark": {"type": "point", "shape": "triangle-left", "size": 40, "filled": true, "opacity": 1},
    "encoding": {"x": {"field": "t", "type": "quantitative"}, "y": {"field": "v", "type": "quantitative"},
     "color": {"field": "s", "type": "nominal", "legend": null, "scale": {"domain": ["Q3Vds","Q3Ids","Q4Vds","Q4Ids","L3V","L3I","L4V","L4I","K","M1","C1","C2","C3"], "range": ["#d42b2b","#2b7d32","#2626b8","#d02a55","#ec1c24","#1fa855","#4a6fc8","#e31ec6","#111111","#2e8b2e","#d03838","#3848c0","#d8405a"]}}}},
   {"data": {"name": "refB"}, "mark": {"type": "point", "shape": "square", "size": 50, "filled": true, "color": "#e89a2c", "opacity": 1},
    "encoding": {"x": {"field": "trig", "type": "quantitative"}, "y": {"field": "tv", "type": "quantitative"}}},
   {"data": {"name": "refB"}, "mark": {"type": "text", "text": "T", "font": "Liberation Sans", "fontSize": 6, "fontWeight": "bold", "color": "#222"},
    "encoding": {"x": {"field": "trig", "type": "quantitative"}, "y": {"field": "tv", "type": "quantitative"}}}
  ]
 }
]
}
